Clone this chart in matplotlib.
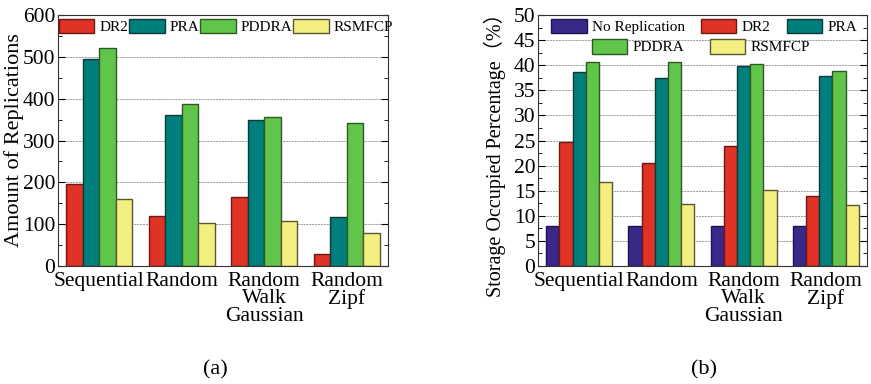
import matplotlib.pyplot as plt
import numpy as np

plt.rcParams['font.family'] = ['Liberation Serif', 'Noto Sans CJK SC']

groups = ['Sequential', 'Random', 'Random\nWalk\nGaussian', 'Random\nZipf']

# (a) amount of replications
series_a = ['DR2', 'PRA', 'PDDRA', 'RSMFCP']
dr2_a = [197, 119, 165, 29]
pra_a = [494, 360, 348, 116]
pddra_a = [522, 388, 356, 343]
rsmfcp_a = [159, 102, 108, 80]

# (b) storage occupied percentage
series_b = ['No Replication', 'DR2', 'PRA', 'PDDRA', 'RSMFCP']
norep_b = [8.0, 8.0, 8.0, 8.0]
dr2_b = [24.8, 20.6, 23.9, 13.9]
pra_b = [38.7, 37.5, 39.9, 37.8]
pddra_b = [40.6, 40.6, 40.2, 38.8]
rsmfcp_b = [16.8, 12.4, 15.1, 12.2]

colors = {
    'No Replication': ('#3a2888', '#1c1450'),
    'DR2': ('#e03225', '#6a1a12'),
    'PRA': ('#007f7c', '#0d3a38'),
    'PDDRA': ('#62c54b', '#2c5a22'),
    'RSMFCP': ('#f3ef80', '#5a5830'),
}


def style_axes(ax, ymax, major, minor):
    ax.set_xlim(-0.5, 3.5)
    ax.set_ylim(0, ymax)
    ax.set_yticks(np.arange(0, ymax + major / 2, major))
    ax.set_yticks(np.arange(0, ymax, minor), minor=True)
    ax.set_xticks(range(len(groups)))
    ax.set_xticklabels(groups, linespacing=0.9)
    ax.tick_params(axis='both', which='both', direction='in', top=True, right=True,
                   labelsize=15.5, pad=2)
    ax.tick_params(axis='x', which='major', length=0, pad=4)
    ax.tick_params(axis='y', which='major', length=5)
    ax.tick_params(axis='y', which='minor', length=3)
    ax.grid(axis='y', which='major', linestyle=(0, (2, 1)), color='#999999', linewidth=0.7)
    ax.set_axisbelow(True)
    for s in ax.spines.values():
        s.set_color('#333333')


def draw_bars(ax, names, data, width):
    x = np.arange(len(groups))
    n = len(names)
    handles = []
    for i, (name, vals) in enumerate(zip(names, data)):
        fc, ec = colors[name]
        off = (i - (n - 1) / 2) * width
        h = ax.bar(x + off, vals, width, color=fc, edgecolor=ec, linewidth=1.0, label=name)
        handles.append(h)
    return handles


leg_kw = dict(frameon=False, fontsize=11, handlelength=2.3, handleheight=1.1,
              handletextpad=0.35, borderaxespad=0.15, borderpad=0.1, loc='upper center')

fig = plt.figure(figsize=(8.71, 3.84), dpi=100)
ax1 = fig.add_axes([58 / 871, 1 - 266 / 384, 330 / 871, 251 / 384])
ax2 = fig.add_axes([538 / 871, 1 - 266 / 384, 329 / 871, 251 / 384])

h1 = draw_bars(ax1, series_a, [dr2_a, pra_a, pddra_a, rsmfcp_a], 0.2)
style_axes(ax1, 600, 100, 50)
ax1.set_ylabel('Amount of Replications', fontsize=16)
ax1.yaxis.set_label_coords(-0.103, 0.5)
ax1.legend(handles=h1, ncol=4, bbox_to_anchor=(0.51, 1.0), columnspacing=0.05, **leg_kw)

h2 = draw_bars(ax2, series_b, [norep_b, dr2_b, pra_b, pddra_b, rsmfcp_b], 0.16)
style_axes(ax2, 50, 5, 2.5)
ax2.set_ylabel('Storage Occupied Percentage（%）', fontsize=14.5)
ax2.yaxis.set_label_coords(-0.097, 0.46)
leg1 = ax2.legend(handles=h2[:3], ncol=3, bbox_to_anchor=(0.505, 1.0),
                  columnspacing=1.05, **leg_kw)
ax2.add_artist(leg1)
ax2.legend(handles=h2[3:], ncol=2, bbox_to_anchor=(0.495, 0.92),
           columnspacing=1.7, **leg_kw)

fig.text(215 / 871, 1 - 370 / 384, '(a)', fontsize=16, ha='center', va='center')
fig.text(704 / 871, 1 - 370 / 384, '(b)', fontsize=16, ha='center', va='center')

fig.savefig('out.png', dpi=100)
